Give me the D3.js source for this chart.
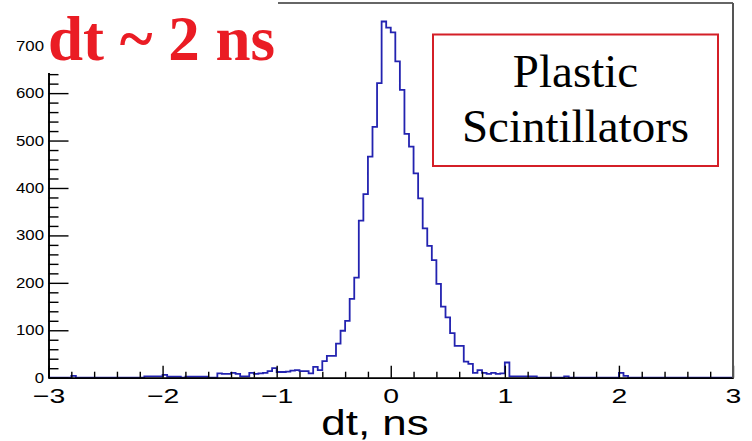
<!DOCTYPE html>
<html>
<head>
<meta charset="utf-8">
<script src="https://cdn.jsdelivr.net/npm/d3@7"></script>
<style>
  body { margin: 0; background: #fff; }
  svg { display: block; }
</style>
</head>
<body>
<svg width="752" height="441"></svg>
<script>
// histogram: 150 bins of 0.04 ns from -3 to 3
var xMin = -3, xMax = 3, binWidth = 0.04;
var counts = [
  0, 0, 0, 0, 0, 4, 0, 0, 0, 0,            // -3.00 .. -2.64
  0, 0, 0, 0, 0, 0, 0, 0, 0, 0,            // -2.60 .. -2.24
  0, 3, 3, 3, 3, 6, 2, 2, 2, 0,            // -2.20 .. -1.84
  2, 2, 2, 2, 2, 0, 0, 9, 8, 8,            // -1.80 .. -1.44
  10, 8, 3, 3, 10, 8, 9, 10, 14, 20,       // -1.40 .. -1.04
  12, 12, 13, 15, 16, 14, 14, 9, 23, 16,   // -1.00 .. -0.64
  35, 46, 46, 72, 99, 120, 166, 211, 331, 387,  // -0.60 .. -0.24
  466, 529, 621, 751, 738, 728, 667, 607, 514, 487, // -0.20 .. 0.16
  431, 378, 315, 278, 248, 198, 150, 127, 94, 67,   // 0.20 .. 0.56
  67, 34, 29, 10, 16, 10, 8, 10, 8, 9,     // 0.60 .. 0.96
  32, 3, 3, 3, 3, 3, 3, 0, 0, 0,           // 1.00 .. 1.36
  0, 0, 0, 3, 0, 0, 0, 0, 0, 0,            // 1.40 .. 1.76
  0, 0, 0, 0, 0, 10, 4, 0, 0, 0,           // 1.80 .. 2.16
  0, 0, 0, 0, 0, 0, 0, 0, 0, 0,            // 2.20 .. 2.56
  0, 0, 0, 0, 0, 0, 0, 0, 0, 0             // 2.60 .. 2.96
];
var xMajor = [-3, -2, -1, 0, 1, 2, 3];
var yMajor = [0, 100, 200, 300, 400, 500, 600, 700];
var yMax = 790;
var xTitle = "dt, ns";
var title = "dt ~ 2 ns";
var legendLines = ["Plastic", "Scintillators"];

var svg = d3.select("svg");
var frame = {left: 48.5, right: 733, top: 3, bottom: 377.7};

var x = d3.scaleLinear().domain([xMin, xMax]).range([frame.left, frame.right]);
var y = d3.scaleLinear().domain([0, yMax]).range([frame.bottom, frame.top]);

// minor tick values
var xMinor = d3.range(xMin, xMax + 0.001, 0.2).map(function(d) { return +d.toFixed(2); })
  .filter(function(d) { return xMajor.indexOf(d) < 0; });
var yMinor = d3.range(0, yMax, 20).filter(function(d) { return d % 100 != 0; });

// Histogram
var pts = counts.map(function(c, i) { return [xMin + i * binWidth, c]; });
pts.push([xMax, counts[counts.length - 1]]);
var line = d3.line()
  .x(function(d) { return x(d[0]); })
  .y(function(d) { return y(d[1]); })
  .curve(d3.curveStepAfter);

svg.append("path")
  .datum(pts)
  .attr("fill", "none")
  .attr("stroke", "#2323b0")
  .attr("stroke-width", 1.8)
  .attr("d", line);

// x axis
var gx = svg.append("g").attr("transform", "translate(0," + frame.bottom + ")");
gx.append("g")
  .call(d3.axisBottom(x).tickValues(xMinor).tickSize(-6).tickSizeOuter(0).tickFormat(""));
gx.append("g")
  .call(d3.axisBottom(x).tickValues(xMajor).tickSize(-12).tickSizeOuter(0).tickPadding(10)
        .tickFormat(d3.format("d")));
gx.selectAll("path.domain").attr("stroke", "#000").attr("stroke-width", 1.6);
gx.selectAll(".tick line").attr("stroke", "#000").attr("stroke-width", 1.4);
gx.selectAll(".tick text")
  .attr("fill", "#000")
  .attr("font-family", "Liberation Sans, Arial, sans-serif")
  .style("font-size", "21px")
  .attr("transform", "scale(1.35,1)");

// y axis
var gy = svg.append("g").attr("transform", "translate(" + frame.left + ",0)");
gy.append("g")
  .call(d3.axisLeft(y).tickValues(yMinor).tickSize(-10).tickSizeOuter(0).tickFormat(""));
gy.append("g")
  .call(d3.axisLeft(y).tickValues(yMajor).tickSize(-20).tickSizeOuter(0).tickPadding(4)
        .tickFormat(d3.format("d")));
gy.selectAll("path.domain").attr("stroke", "#000").attr("stroke-width", 1.6);
gy.selectAll(".tick line").attr("stroke", "#000").attr("stroke-width", 1.4);
gy.selectAll(".tick text")
  .attr("fill", "#000")
  .attr("font-family", "Liberation Sans, Arial, sans-serif")
  .style("font-size", "14px")
  .attr("x", -4.5 / 1.2)
  .attr("transform", "scale(1.2,1)");

// frame top / right
svg.append("line")
  .attr("x1", frame.left).attr("x2", frame.right).attr("y1", frame.top).attr("y2", frame.top)
  .attr("stroke", "#333").attr("stroke-width", 1.6);
svg.append("line")
  .attr("x1", frame.right).attr("x2", frame.right).attr("y1", frame.top).attr("y2", frame.bottom)
  .attr("stroke", "#555").attr("stroke-width", 2);

// x title
svg.append("text")
  .attr("transform", "translate(375,435) scale(1.22,1)")
  .attr("text-anchor", "middle")
  .attr("font-family", "Liberation Sans, Arial, sans-serif")
  .style("font-size", "36px")
  .attr("fill", "#000")
  .text(xTitle);

// big red label (white box hides the corner of the frame)
svg.append("rect")
  .attr("x", 46).attr("y", 0).attr("width", 232).attr("height", 73)
  .attr("fill", "#fff");
svg.append("text")
  .attr("x", 48).attr("y", 60)
  .attr("font-family", "Liberation Serif, Times New Roman, serif")
  .style("font-weight", "bold")
  .style("font-size", "63px")
  .attr("fill", "#ea1c24")
  .text(title);

// legend box
svg.append("rect")
  .attr("x", 433).attr("y", 34.5).attr("width", 285).attr("height", 131.5)
  .attr("fill", "#fff")
  .attr("stroke", "#d41f27")
  .attr("stroke-width", 2);
svg.selectAll("text.leg")
  .data(legendLines)
  .enter().append("text")
  .attr("class", "leg")
  .attr("x", 575.5)
  .attr("y", function(d, i) { return 86.7 + i * 55; })
  .attr("text-anchor", "middle")
  .attr("font-family", "Liberation Serif, Times New Roman, serif")
  .style("font-size", "47px")
  .attr("fill", "#000")
  .text(function(d) { return d; });
</script>
</body>
</html>
